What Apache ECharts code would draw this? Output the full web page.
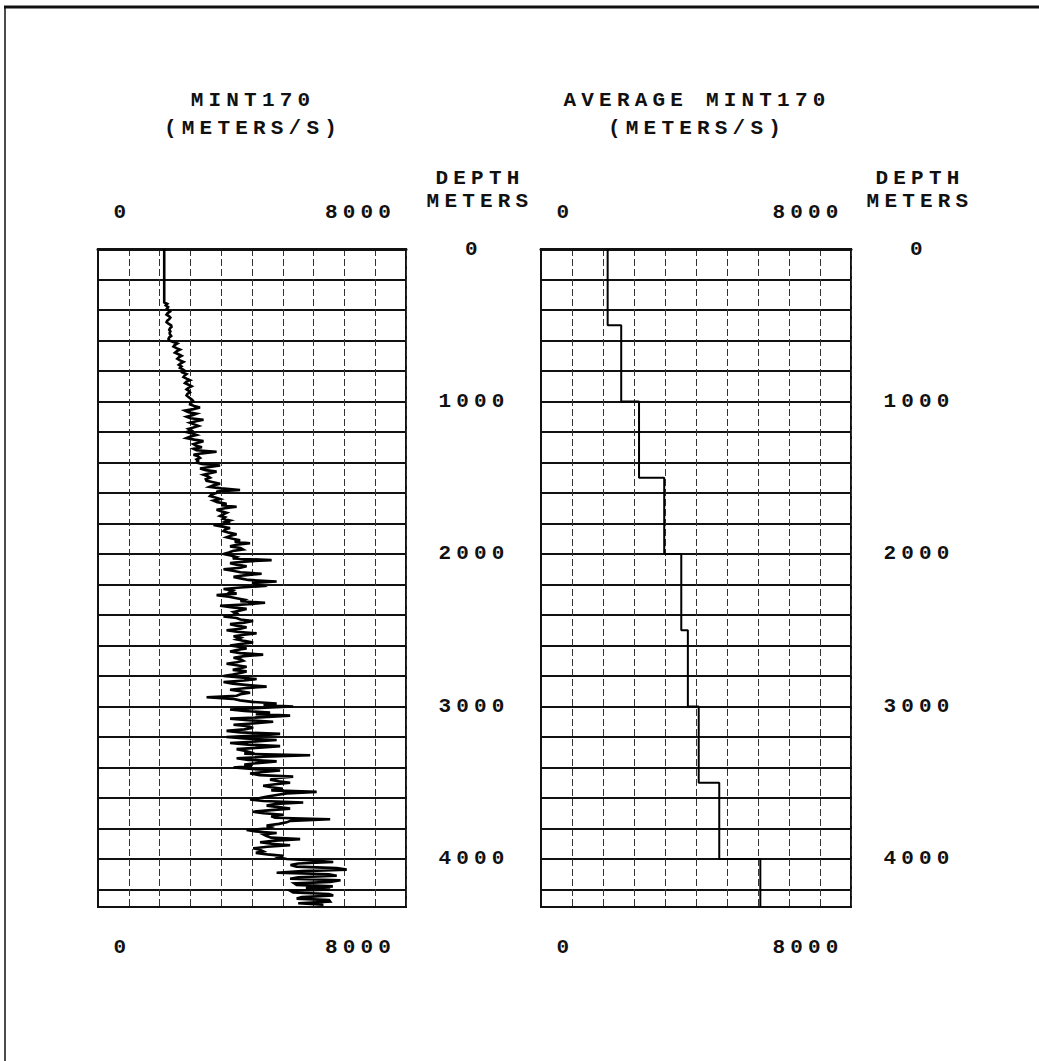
<!DOCTYPE html>
<html>
<head>
<meta charset="utf-8">
<title>MINT170</title>
<script src="https://cdn.jsdelivr.net/npm/echarts@6/dist/echarts.min.js"></script>
<style>
  html, body { margin: 0; padding: 0; background: #ffffff; }
  #chart { width: 1039px; height: 1061px; }
  /* typewriter-style spacing for every label */
  #chart text { letter-spacing: 5.2px; }
</style>
</head>
<body>
<div id="chart"></div>
<script>
// MINT170 interval velocity log (m/s), sampled every logStep metres from logStartDepth
const surfaceVelocity = 1720;      // constant value carried up to the surface
const logStartDepth = 350;
const logStep = 10;
const logVelocity = [
  // 350-390 m
  1720, 1800, 1760, 1820, 1790,
  // 400-590 m
  1830, 1870, 1810, 1780, 1840, 1880, 1850, 1800, 1780, 1830, 1900, 1910, 1870, 1850, 1880, 1860, 1870, 1900, 1850, 1830,
  // 600-790 m
  1850, 1960, 2060, 1990, 1960, 2040, 2130, 2050, 2000, 2090, 2170, 2100, 2060, 2130, 2220, 2150, 2100, 2170, 2130, 2200,
  // 800-990 m
  2260, 2200, 2300, 2250, 2220, 2300, 2390, 2300, 2260, 2350, 2430, 2350, 2300, 2360, 2390, 2320, 2300, 2350, 2400, 2450,
  // 1000-1190 m
  2480, 2400, 2390, 2500, 2650, 2480, 2260, 2350, 2560, 2450, 2300, 2400, 2740, 2550, 2390, 2500, 2610, 2480, 2350, 2420,
  // 1200-1390 m
  2300, 2450, 2560, 2400, 2300, 2500, 2740, 2600, 2480, 2550, 2700, 2480, 2560, 3080, 2700, 2480, 2600, 2650, 2560, 2600,
  // 1400-1590 m
  2560, 2700, 3170, 2900, 2650, 2800, 3080, 2900, 2740, 2850, 2910, 2800, 2820, 3000, 3170, 3000, 2900, 3200, 3690, 3100,
  // 1600-1790 m
  3080, 2950, 2910, 3050, 3170, 3000, 3100, 3340, 3200, 3600, 3300, 3080, 3200, 3340, 3250, 3170, 3300, 3250, 3430, 3300,
  // 1800-1990 m
  3430, 3000, 3200, 3430, 3300, 3260, 3400, 3600, 3450, 3340, 3500, 3690, 3550, 3950, 3600, 3430, 3700, 3770, 3500, 3400,
  // 2000-2190 m
  3260, 3450, 3600, 3500, 4510, 3800, 3430, 3600, 3860, 3700, 3260, 3500, 3700, 4250, 3800, 3520, 3700, 3900, 4640, 4000,
  // 2200-2390 m
  4210, 4290, 3700, 3260, 3500, 3430, 3600, 3080, 3400, 3600, 3800, 3700, 4340, 3900, 3170, 3500, 3860, 3700, 3520, 3600,
  // 2400-2590 m
  3500, 3260, 3600, 3700, 4030, 3800, 3430, 3600, 3860, 3700, 3340, 3600, 4120, 3800, 3520, 3700, 3600, 3800, 4030, 3700,
  // 2600-2790 m
  3430, 3690, 3860, 3600, 3430, 3700, 4290, 3800, 3520, 3700, 3770, 3600, 3340, 3600, 3860, 3700, 3500, 3860, 3700, 3500,
  // 2800-2990 m
  3260, 3700, 4120, 3800, 3260, 3500, 3900, 4380, 3800, 3430, 3700, 3950, 3700, 3600, 2820, 3500, 3690, 4000, 4640, 4300,
  // 3000-3190 m
  5070, 4200, 3430, 3800, 4470, 4100, 4990, 4300, 3430, 3900, 4550, 4100, 3520, 3900, 4030, 3800, 3340, 3700, 4730, 4200,
  // 3200-3390 m
  3340, 3800, 4640, 4100, 3430, 3900, 4730, 4200, 3600, 3800, 3950, 3800, 5510, 4300, 3600, 3900, 4640, 4200, 3800, 4000,
  // 3400-3590 m
  3520, 4000, 4730, 4300, 3950, 4200, 5070, 4600, 4470, 4700, 4990, 4600, 4290, 4500, 4800, 4500, 5680, 4900, 4640, 4400,
  // 3600-3790 m
  4200, 3950, 4300, 5330, 4600, 4380, 4700, 4990, 4500, 4030, 4300, 4810, 4500, 4600, 6030, 5000, 4900, 4700, 4380, 4500,
  // 3800-3990 m
  4380, 3860, 4100, 4640, 4300, 4380, 4500, 5250, 4600, 4210, 4500, 4990, 4400, 4030, 4200, 4290, 4100, 4400, 4810, 4700,
  // 4000-4190 m
  4900, 5600, 6110, 5200, 5000, 5160, 6200, 6460, 5300, 4640, 6000, 6200, 5200, 4990, 6300, 6030, 5100, 5160, 6100, 5400,
  // 4200-4310 m
  6030, 5000, 5070, 6000, 6110, 5300, 5160, 6000, 6030, 5200, 5850, 5700
];

// Interval averages: top depth of each interval (m) and its mean velocity (m/s)
const avgTopDepth = [0, 500, 1000, 1500, 2000, 2500, 3000, 3500, 4000];
const avgVelocity = [1720, 2070, 2530, 3180, 3620, 3790, 4070, 4600, 5660];

// Axis ranges and tick labels
const maxDepth = 4315;
const velocityMin = 0;
const velocityMax = 8000;
const velocityStep = 800;
const depthStep = 200;
const velocityTickLabels = ['0', '8000'];
const depthTickLabels = ['0', '1000', '2000', '3000', '4000'];

// Panel headings
const panelTitles = [['MINT170', '(METERS/S)'], ['AVERAGE MINT170', '(METERS/S)']];
const depthTitle = ['DEPTH', 'METERS'];

const FONT = "'Liberation Mono', 'DejaVu Sans Mono', monospace";
const FONT_SIZE = 21;
const INK = '#111111';

// Line data for the log curve: surface value, then the regular samples
const logData = [[surfaceVelocity, 0]].concat(
  logVelocity.map((v, i) => [v, logStartDepth + i * logStep])
);

// Staircase data for the interval averages
const avgData = [];
avgTopDepth.forEach((top, i) => {
  const bottom = i + 1 < avgTopDepth.length ? avgTopDepth[i + 1] : maxDepth;
  avgData.push([avgVelocity[i], top]);
  avgData.push([avgVelocity[i], bottom]);
});

const grids = [
  { left: 98, top: 249, width: 308, height: 658, loPad: 49, hiPad: 91 },
  { left: 541, top: 249, width: 310, height: 658, loPad: 49, hiPad: 86 }
];

function velocityLabel(val) {
  if (val === velocityMin) return '{lo|' + velocityTickLabels[0] + '}';
  if (val === velocityMax) return '{hi|' + velocityTickLabels[1] + '}';
  return '';
}

const labelText = {
  color: INK, fontFamily: FONT, fontWeight: 'bold', fontSize: FONT_SIZE
};

const xAxes = [];
const yAxes = [];
grids.forEach((g, gi) => {
  const rich = {
    lo: Object.assign({ padding: [0, 0, 0, g.loPad] }, labelText),
    hi: Object.assign({ padding: [0, g.hiPad, 0, 0] }, labelText)
  };
  // top axis: frame edge, vertical grid and upper labels
  xAxes.push({
    type: 'value', gridIndex: gi, position: 'top',
    min: velocityMin, max: velocityMax, interval: velocityStep,
    axisLine: { show: true, lineStyle: { color: INK, width: 3 } },
    axisTick: { show: false },
    axisLabel: { show: true, margin: 26, formatter: velocityLabel, rich: rich },
    splitLine: { show: true, lineStyle: { color: '#333', width: 1, type: [7, 3] } }
  });
  // bottom axis: lower labels
  xAxes.push({
    type: 'value', gridIndex: gi, position: 'bottom',
    min: velocityMin, max: velocityMax, interval: velocityStep,
    axisLine: { show: true, onZero: false, lineStyle: { color: INK, width: 2 } },
    axisTick: { show: false },
    axisLabel: { show: true, margin: 30, formatter: velocityLabel, rich: rich },
    splitLine: { show: false }
  });
  yAxes.push({
    type: 'value', gridIndex: gi, position: 'right', inverse: true,
    min: 0, max: maxDepth, interval: depthStep,
    axisLine: { show: true, lineStyle: { color: INK, width: 2 } },
    axisTick: { show: false },
    axisLabel: {
      show: true, margin: 68, align: 'center',
      color: INK, fontFamily: FONT, fontWeight: 'bold', fontSize: FONT_SIZE,
      padding: [0, 0, 6, 0],
      showMaxLabel: false,
      formatter: (val) => depthTickLabels.indexOf(String(val)) >= 0 ? String(val) : ''
    },
    splitLine: { show: true, lineStyle: { color: INK, width: 1.8 } }
  });
});

// Headings drawn as text elements
const headingStyle = {
  fill: INK, font: 'bold ' + FONT_SIZE + 'px ' + FONT, textAlign: 'center', textVerticalAlign: 'middle'
};
const graphics = [
  // outer frame
  { type: 'line', shape: { x1: 4, y1: 7, x2: 1039, y2: 7 }, style: { stroke: INK, lineWidth: 3 } },
  { type: 'line', shape: { x1: 5, y1: 7, x2: 5, y2: 1061 }, style: { stroke: INK, lineWidth: 1.5 } }
];
const titleCenters = [253, 697];
panelTitles.forEach((lines, i) => {
  lines.forEach((t, j) => {
    graphics.push({ type: 'text', x: titleCenters[i], y: 100 + j * 28,
      style: Object.assign({ text: t }, headingStyle) });
  });
});
const depthCenters = [480, 920];
depthCenters.forEach((cx) => {
  depthTitle.forEach((t, j) => {
    graphics.push({ type: 'text', x: cx, y: 178 + j * 23,
      style: Object.assign({ text: t }, headingStyle) });
  });
});

const chart = echarts.init(document.getElementById('chart'), null, { renderer: 'svg' });
chart.setOption({
  animation: false,
  backgroundColor: '#ffffff',
  grid: grids.map(g => ({
    show: true, borderColor: INK, borderWidth: 2, containLabel: false,
    left: g.left, top: g.top, width: g.width, height: g.height
  })),
  xAxis: xAxes,
  yAxis: yAxes,
  graphic: graphics,
  series: [
    {
      name: 'MINT170', type: 'line', xAxisIndex: 0, yAxisIndex: 0,
      data: logData, showSymbol: false, symbol: 'none', clip: true,
      lineStyle: { color: '#000', width: 2.6, join: 'miter', miterLimit: 4 }
    },
    {
      name: 'AVERAGE MINT170', type: 'line', xAxisIndex: 2, yAxisIndex: 1,
      data: avgData, showSymbol: false, symbol: 'none', clip: true,
      lineStyle: { color: '#000', width: 2 }
    }
  ]
});
</script>
</body>
</html>
